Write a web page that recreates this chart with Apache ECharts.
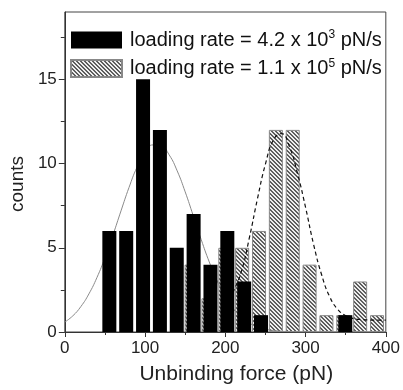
<!DOCTYPE html>
<html>
<head>
<meta charset="utf-8">
<script src="https://cdn.jsdelivr.net/npm/echarts@6/dist/echarts.min.js"></script>
<style>
  html, body { margin: 0; padding: 0; background: #fff; }
  #chart { width: 403px; height: 390px; }
</style>
</head>
<body>
<div id="chart"></div>
<script>
// Histogram of unbinding forces at two loading rates, with Gaussian fits.
const xTicks = [0, 100, 200, 300, 400];
const yTicks = [0, 5, 10, 15];
const yMinorTicks = [2.5, 7.5, 12.5, 17.5];

// slow loading rate (solid black bars): bin centres (pN) and counts
const slowCenters = [55.5, 76.5, 97.5, 118.5, 139.5, 160.5, 181.5, 202.5, 223.5, 244.5, 349.5];
const slowCounts  = [6, 6, 15, 12, 5, 7, 4, 6, 3, 1, 1];

// fast loading rate (hatched bars)
const fastCenters = [158, 179, 200, 221, 242, 263, 284, 305, 326, 347, 368, 389];
const fastCounts  = [4, 2, 5, 5, 6, 12, 12, 4, 1, 1, 3, 1];

// fitted curves
const slowFitX = [0, 10, 20, 30, 40, 50, 60, 70, 80, 90, 100, 110, 120, 130, 140, 150, 160, 170, 180, 190, 200, 210, 220, 230, 240, 250, 260, 280, 300, 350, 400];
const slowFitY = [0.59, 0.96, 1.51, 2.26, 3.23, 4.41, 5.76, 7.19, 8.58, 9.79, 10.67, 11.11, 11.06, 10.52, 9.57, 8.32, 6.91, 5.48, 4.16, 3.02, 2.09, 1.38, 0.88, 0.53, 0.31, 0.17, 0.09, 0.02, 0.0, 0.0, 0.0];
const fastFitX = [195, 200, 210, 220, 230, 240, 250, 260, 270, 280, 290, 300, 310, 320, 330, 340, 350, 360, 370, 380, 390, 400];
const fastFitY = [1.28, 1.55, 2.41, 3.6, 5.6, 7.9, 9.97, 11.41, 11.78, 11.0, 9.4, 7.4, 5.2, 3.4, 2.1, 1.35, 0.97, 0.8, 0.74, 0.71, 0.7, 0.7];

// legend text parts
const rateMantissa = ['4.2', '1.1'];
const rateExponent = ['3', '5'];
const seriesNames = rateMantissa.map((m, i) => 'loading rate = ' + m + ' x 10{sup|' + rateExponent[i] + '} pN/s');

const FONT = '"Liberation Sans", Arial, sans-serif';

// diagonal hatch tile
function hatchTile() {
  const c = document.createElement('canvas');
  c.width = 4; c.height = 4;
  const g = c.getContext('2d');
  g.fillStyle = '#eeeeee';
  g.fillRect(0, 0, 4, 4);
  g.fillStyle = '#5e5e5e';
  for (let y = 0; y < 4; y++) {
    g.fillRect(y, y, 1, 1);
    g.fillRect((y + 1) % 4, y, 1, 1);
  }
  return c;
}

const pairs = (xs, ys) => xs.map((x, i) => [x, ys[i]]);

const chart = echarts.init(document.getElementById('chart'), null, { renderer: 'canvas' });
chart.setOption({
  animation: false,
  backgroundColor: '#fff',
  textStyle: { fontFamily: FONT },
  grid: {
    left: 62, right: 17, top: 12, bottom: 55,
    show: true, borderColor: '#444', borderWidth: 1, backgroundColor: 'transparent'
  },
  legend: {
    orient: 'vertical', left: 65, top: 24,
    itemWidth: 51, itemHeight: 17, itemGap: 6.5,
    icon: 'rect',
    data: seriesNames,
    textStyle: {
      fontFamily: FONT, fontSize: 20, color: '#111', lineHeight: 22,
      padding: [0, 0, 0, 3],
      rich: {
        sup: { fontFamily: FONT, fontSize: 12, lineHeight: 12, verticalAlign: 'top', color: '#111' }
      }
    }
  },
  xAxis: {
    type: 'value', min: 0, max: 400, interval: 100,
    name: 'Unbinding force (pN)', nameLocation: 'middle', nameGap: 32,
    nameTextStyle: { fontFamily: FONT, fontSize: 21, color: '#222', padding: [0, 0, 0, 22] },
    axisLine: { show: true, lineStyle: { color: '#333', width: 1 } },
    axisTick: { show: true, inside: false, length: 5, lineStyle: { color: '#333' } },
    minorTick: { show: true, splitNumber: 2, length: 3, lineStyle: { color: '#333' } },
    axisLabel: { fontFamily: FONT, fontSize: 17, color: '#222', margin: 8, customValues: xTicks },
    splitLine: { show: false }
  },
  yAxis: [{
    type: 'value', min: 0, max: 19, interval: 5,
    name: 'counts', nameLocation: 'middle', nameGap: 36,
    nameTextStyle: { fontFamily: FONT, fontSize: 19, color: '#222', padding: [0, 24, 0, 0] },
    axisLine: { show: true, lineStyle: { color: '#333', width: 1 } },
    axisTick: { show: true, length: 6, customValues: yTicks, lineStyle: { color: '#333' } },
    axisLabel: { fontFamily: FONT, fontSize: 17, color: '#222', margin: 8, customValues: yTicks },
    splitLine: { show: false }
  }, {
    type: 'value', min: 0, max: 19, position: 'left',
    axisLine: { show: false },
    axisTick: { show: true, length: 4, customValues: yMinorTicks, lineStyle: { color: '#333' } },
    axisLabel: { show: false },
    splitLine: { show: false }
  }],
  series: [{
    name: seriesNames[1],
    type: 'bar', z: 2,
    barWidth: 14,
    data: pairs(fastCenters, fastCounts),
    itemStyle: { color: { image: hatchTile(), repeat: 'repeat' }, borderColor: '#888', borderWidth: 1 }
  }, {
    name: seriesNames[0],
    type: 'bar', z: 4,
    barWidth: 14, barGap: '-100%',
    data: pairs(slowCenters, slowCounts),
    itemStyle: { color: '#000' }
  }, {
    type: 'line', z: 3, smooth: true, symbol: 'none',
    data: pairs(slowFitX, slowFitY),
    lineStyle: { color: '#8a8a8a', width: 1 }
  }, {
    type: 'line', z: 3, smooth: true, symbol: 'none',
    data: pairs(fastFitX, fastFitY),
    lineStyle: { color: '#111', width: 1.2, type: [4, 3] }
  }]
});
</script>
</body>
</html>
